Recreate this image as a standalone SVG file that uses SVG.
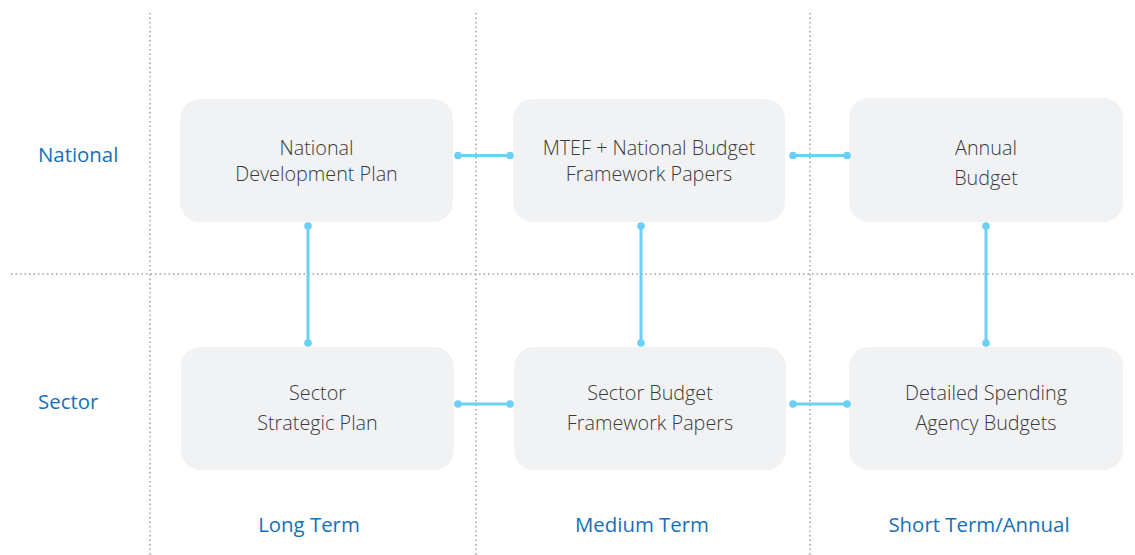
<svg xmlns="http://www.w3.org/2000/svg" width="1135" height="555" viewBox="0 0 1135 555">
<style>
.grid{stroke:#a0a0a0;stroke-width:1.5;stroke-dasharray:1.5 3;fill:none}
.box{fill:#f1f2f4}
.bt{font-family:"Open Sans","Liberation Sans",sans-serif;font-weight:300;font-size:19.8px;fill:#3a3a3a;text-anchor:middle}
.lab{font-family:"Open Sans","Liberation Sans",sans-serif;font-size:20.4px;fill:#1570b8}
.labc{text-anchor:middle}
.con{stroke:#6ccff6;stroke-width:3;fill:none}
.dot{fill:#6ccff6}
</style>
<rect width="1135" height="555" fill="#fff"/>
<g id="grid">
<line class="grid" x1="150" y1="13" x2="150" y2="555"/>
<line class="grid" x1="476" y1="13" x2="476" y2="555"/>
<line class="grid" x1="810" y1="13" x2="810" y2="555"/>
<line class="grid" x1="11" y1="274" x2="1135" y2="274"/>
</g>
<g id="labels">
<text class="lab" x="38" y="162">National</text>
<text class="lab" x="38" y="409">Sector</text>
<text class="lab labc" x="309" y="532">Long Term</text>
<text class="lab labc" x="642" y="532">Medium Term</text>
<text class="lab labc" x="979" y="532">Short Term/Annual</text>
</g>
<g id="n1"><rect class="box" x="180" y="99" width="273" height="123" rx="20"/>
<text class="bt" x="316.5" y="155">National</text><text class="bt" x="316.5" y="181">Development Plan</text></g>
<g id="n2"><rect class="box" x="513" y="99" width="272" height="123" rx="20"/>
<text class="bt" x="649" y="155">MTEF + National Budget</text><text class="bt" x="649" y="181">Framework Papers</text></g>
<g id="n3"><rect class="box" x="849" y="98" width="274" height="124" rx="20"/>
<text class="bt" x="986" y="155">Annual</text><text class="bt" x="986" y="185">Budget</text></g>
<g id="n4"><rect class="box" x="181" y="347" width="273" height="123" rx="20"/>
<text class="bt" x="317.5" y="400">Sector</text><text class="bt" x="317.5" y="430">Strategic Plan</text></g>
<g id="n5"><rect class="box" x="514" y="347" width="272" height="123" rx="20"/>
<text class="bt" x="650" y="400">Sector Budget</text><text class="bt" x="650" y="430">Framework Papers</text></g>
<g id="n6"><rect class="box" x="849" y="347" width="274" height="123" rx="20"/>
<text class="bt" x="986" y="400">Detailed Spending</text><text class="bt" x="986" y="430">Agency Budgets</text></g>
<g id="connectors">
<line class="con" x1="458" y1="155.5" x2="510" y2="155.5"/>
<circle class="dot" cx="458" cy="155.5" r="3.8"/><circle class="dot" cx="510" cy="155.5" r="3.8"/>
<line class="con" x1="793" y1="155.5" x2="847" y2="155.5"/>
<circle class="dot" cx="793" cy="155.5" r="3.8"/><circle class="dot" cx="847" cy="155.5" r="3.8"/>
<line class="con" x1="458" y1="404" x2="510" y2="404"/>
<circle class="dot" cx="458" cy="404" r="3.8"/><circle class="dot" cx="510" cy="404" r="3.8"/>
<line class="con" x1="793" y1="404" x2="847" y2="404"/>
<circle class="dot" cx="793" cy="404" r="3.8"/><circle class="dot" cx="847" cy="404" r="3.8"/>
<line class="con" x1="308" y1="226" x2="308" y2="343"/>
<circle class="dot" cx="308" cy="226" r="3.8"/><circle class="dot" cx="308" cy="343" r="3.8"/>
<line class="con" x1="641" y1="226" x2="641" y2="343"/>
<circle class="dot" cx="641" cy="226" r="3.8"/><circle class="dot" cx="641" cy="343" r="3.8"/>
<line class="con" x1="986" y1="226" x2="986" y2="343"/>
<circle class="dot" cx="986" cy="226" r="3.8"/><circle class="dot" cx="986" cy="343" r="3.8"/>
</g>
</svg>
